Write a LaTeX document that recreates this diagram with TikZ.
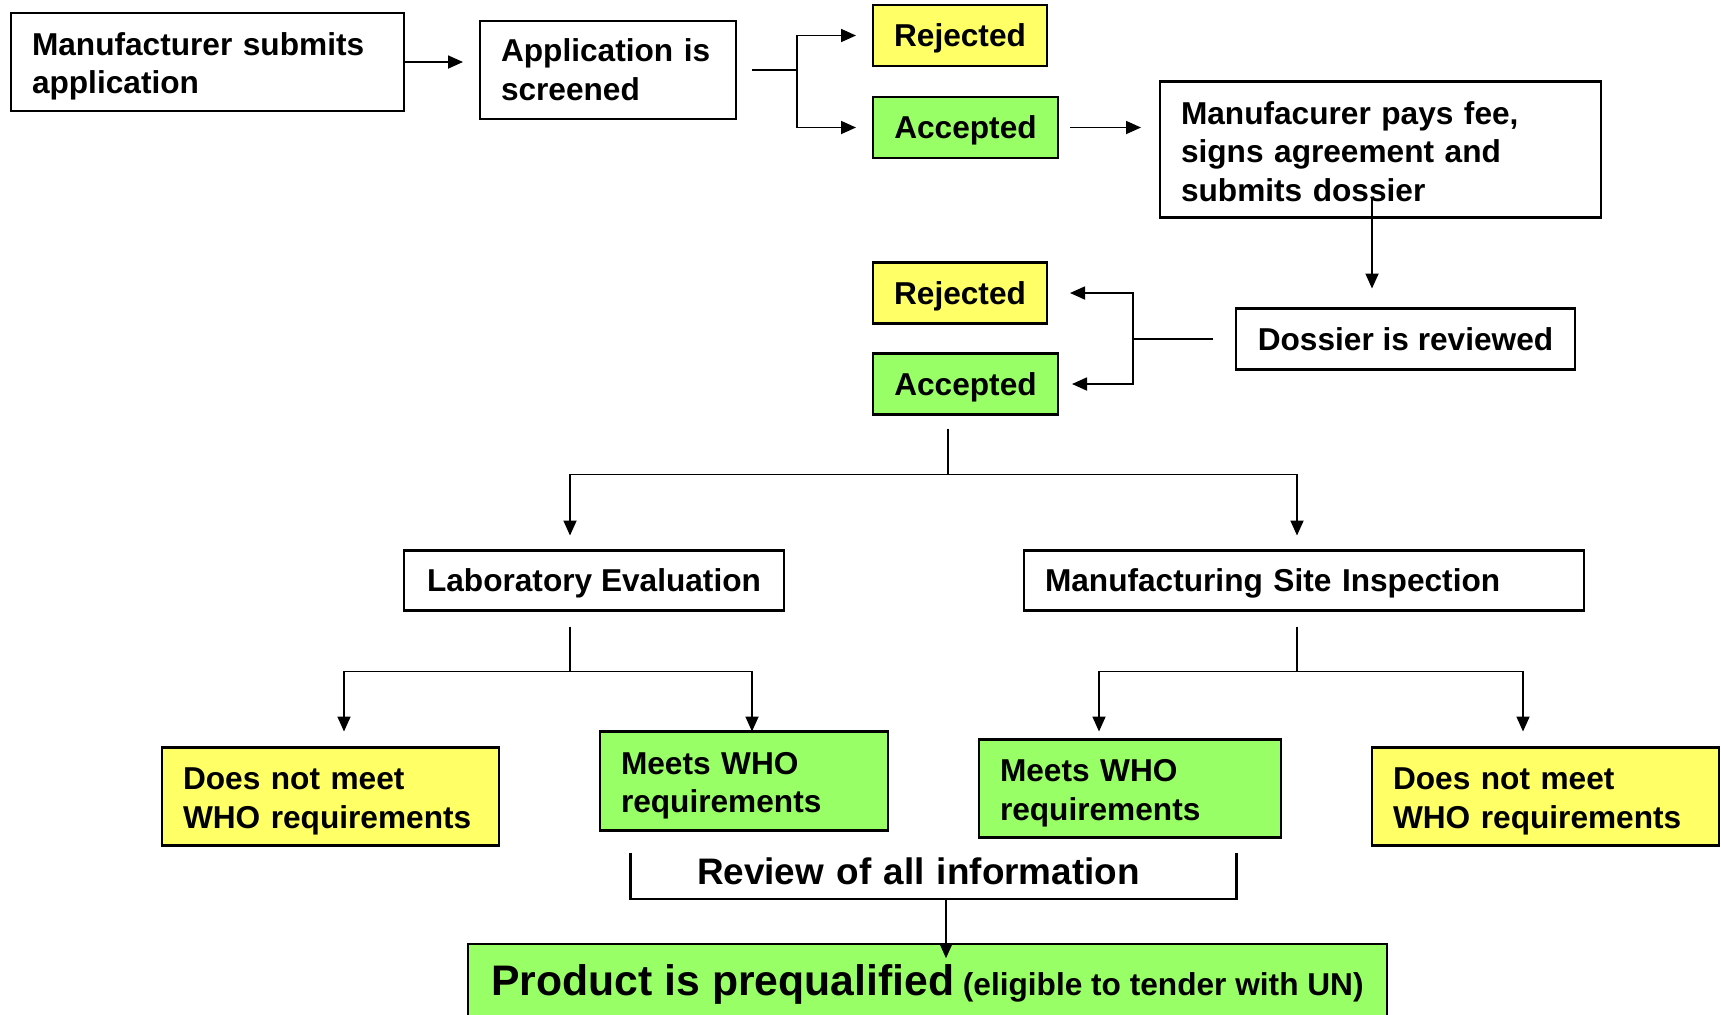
\documentclass[tikz,border=0pt]{standalone}
\usepackage{fontspec}
\setmainfont{Liberation Sans}
\usepackage{xcolor}
\usepackage{tikz}
\usetikzlibrary{arrows.meta,positioning,calc}
\definecolor{pqyellow}{HTML}{FFFF66}
\definecolor{pqgreen}{HTML}{99FF66}
\tikzset{
  step box/.style={draw=black, line width=1.4pt, fill=white, align=left, inner xsep=0.42cm, inner ysep=0pt, outer sep=0pt, font=\fontsize{18}{22}\selectfont\bfseries},
  one line/.style={step box, text depth=0pt, minimum height=1.22cm},
  two line/.style={step box, text height=18pt, minimum height=1.96cm},
  reject/.style={one line, fill=pqyellow},
  accept/.style={one line, fill=pqgreen},
  fail/.style={two line, fill=pqyellow},
  pass/.style={two line, fill=pqgreen},
  link/.style={line width=1pt, draw=black},
  arrow/.style={-{Triangle[length=0.3cm, width=0.26cm]}, line width=1pt, draw=black},
  bracket/.style={line width=1.4pt, draw=black}
}

\begin{document}
\begin{tikzpicture}
  \path[use as bounding box, fill=white] (0,0) rectangle (34.42,-20.28);

  \node[two line, anchor=north west, text width=7.02cm] (submit) at (0.22,-0.26) {Manufacturer submits\\application};
  \node[step box, right=1.52cm of submit, yshift=-0.16cm, text width=4.28cm, minimum height=1.96cm] (screen) {Application is\\screened};
  \node[reject, right=2.74cm of screen, yshift=0.69cm, minimum width=3.48cm] (rej1) {Rejected};
  \node[accept, below right=0.62cm and 0cm of rej1.south west, minimum width=3.7cm] (acc1) {Accepted};
  \node[step box, right=2.04cm of acc1, yshift=-0.44cm, text width=7.98cm, text height=15.5pt, minimum height=2.72cm] (pay) {Manufacurer pays fee,\\signs agreement and\\submits dossier};
  \node[one line, below=1.82cm of pay, xshift=0.5cm, minimum width=6.78cm] (doss) {Dossier is reviewed};
  \node[reject, left=3.78cm of doss, yshift=0.92cm, minimum width=3.48cm] (rej2) {Rejected};
  \node[accept, below right=0.6cm and 0cm of rej2.south west, minimum width=3.7cm] (acc2) {Accepted};
  \node[one line, below left=2.72cm and 1.78cm of acc2.south west, minimum width=7.6cm, minimum height=1.2cm] (lab) {Laboratory Evaluation};
  \node[one line, right=4.8cm of lab, text width=10.36cm, minimum height=1.2cm] (site) {Manufacturing Site Inspection};
  \node[fail, below=2.74cm of lab, xshift=-5.27cm, text width=5.9cm] (dnmL) {Does not meet\\WHO requirements};
  \node[pass, right=2.02cm of dnmL, yshift=0.31cm, text width=4.92cm, minimum height=1.98cm] (meetL) {Meets WHO\\requirements};
  \node[pass, right=1.82cm of meetL, yshift=-0.15cm, text width=5.2cm] (meetR) {Meets WHO\\requirements};
  \node[fail, right=1.82cm of meetR, yshift=-0.16cm, text width=6.1cm] (dnmR) {Does not meet\\WHO requirements};
  \node[below=0.44cm of meetL, xshift=3.79cm, text width=12.1cm, align=left, minimum height=0.92cm, text depth=0.18cm, inner sep=0pt, font=\fontsize{21}{25}\selectfont\bfseries] (review) {\hspace*{1.32cm}Review of all information};
  \node[step box, fill=pqgreen, below=0.9cm of review, xshift=-0.12cm, minimum width=18.38cm, minimum height=1.6cm] (final) {{\fontsize{24.3}{28}\selectfont Product is prequalified} (eligible to tender with UN)};

  \coordinate[right=1.22cm of screen.east] (fork1);
  \coordinate[left=2.06cm of doss.west] (fork2);
  \coordinate[below=1.2cm of acc2.south, xshift=-0.35cm] (fork3);
  \coordinate[below=1.22cm of lab.south, xshift=-0.48cm] (fork4);
  \coordinate[below=1.22cm of site.south, xshift=-0.14cm] (fork5);

  \draw[arrow, shorten >=0.34cm] (submit) -- (submit -| screen.west);
  \draw[link, shorten <=0.32cm] (screen.east) -- (fork1);
  \draw[arrow, shorten >=0.34cm] (fork1) |- (rej1);
  \draw[arrow, shorten >=0.34cm] (fork1) |- (acc1);
  \draw[arrow, shorten <=0.24cm, shorten >=0.38cm] (acc1) -- (acc1 -| pay.west);
  \draw[arrow, shorten <=-0.38cm, shorten >=0.4cm] ([xshift=-0.17cm]pay.south) -- ([xshift=-0.17cm]pay.south |- doss.north);
  \draw[link, shorten <=0.46cm] (doss.west) -- (fork2);
  \draw[arrow, shorten >=0.46cm] (fork2) |- (rej2);
  \draw[arrow, shorten >=0.28cm] (fork2) |- (acc2);
  \draw[link, shorten <=0.28cm] (acc2.south -| fork3) -- (fork3);
  \draw[arrow, shorten >=0.3cm] (fork3) -| ([xshift=-0.48cm]lab.north);
  \draw[arrow, shorten >=0.3cm] (fork3) -| ([xshift=-0.14cm]site.north);
  \draw[link, shorten <=0.32cm] (lab.south -| fork4) -- (fork4);
  \draw[arrow, shorten >=0.32cm] (fork4) -| ([xshift=0.27cm]dnmL.north);
  \draw[arrow] (fork4) -| ([xshift=0.16cm]meetL.north);
  \draw[link, shorten <=0.32cm] (site.south -| fork5) -- (fork5);
  \draw[arrow, shorten >=0.16cm] (fork5) -| ([xshift=-0.62cm]meetR.north);
  \draw[arrow, shorten >=0.32cm] (fork5) -| ([xshift=-0.45cm]dnmR.north);
  \draw[bracket] (review.north west) -- (review.south west) -- (review.south east) -- (review.north east);
  \draw[arrow, shorten >=-0.28cm] ([xshift=0.25cm]review.south) -- ([xshift=0.25cm]review.south |- final.north);
\end{tikzpicture}
\end{document}
